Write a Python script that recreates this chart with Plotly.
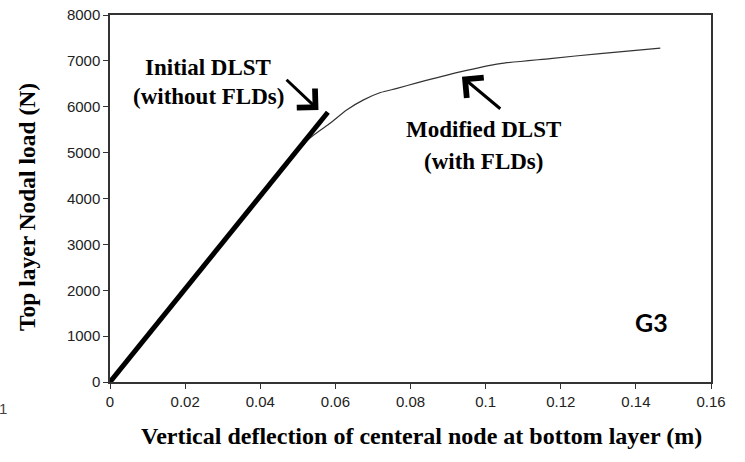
import plotly.graph_objects as go

# Load-deflection curves for specimen G3
initial_x = [0.0, 0.058]
initial_y = [0, 5880]

modified_x = [0.0, 0.053, 0.0586, 0.063, 0.0675, 0.072, 0.0764, 0.0817,
              0.0932, 0.1039, 0.1172, 0.1305, 0.1465]
modified_y = [0, 5300, 5640, 5930, 6150, 6310, 6400, 6520,
              6760, 6940, 7050, 7160, 7280]

x_ticks = [0, 0.02, 0.04, 0.06, 0.08, 0.1, 0.12, 0.14, 0.16]
x_tick_text = ["0", "0.02", "0.04", "0.06", "0.08", "0.1", "0.12", "0.14", "0.16"]
y_ticks = [0, 1000, 2000, 3000, 4000, 5000, 6000, 7000, 8000]

# plot-area geometry in pixels, used to place the free-floating texts
L, R, T, B = 110, 711, 15, 382


def px(xp):
    return (xp - L) / (R - L)


def py(yp):
    return (B - yp) / (B - T)


serif_bold = dict(family="Liberation Serif", size=23, color="black")

fig = go.Figure()
fig.add_trace(go.Scatter(x=modified_x, y=modified_y, mode="lines",
                         line=dict(color="#333333", width=1.2, shape="spline",
                                   smoothing=0.6),
                         name="Modified DLST"))
fig.add_trace(go.Scatter(x=initial_x, y=initial_y, mode="lines",
                         line=dict(color="black", width=5),
                         name="Initial DLST"))

axis_common = dict(showgrid=False, zeroline=False, showline=True,
                   linecolor="#333333", linewidth=1.5, mirror=True,
                   ticks="outside", ticklen=5, tickwidth=1.2,
                   tickcolor="#333333", automargin=False,
                   tickfont=dict(family="Liberation Sans", size=15, color="#222222"))

fig.update_xaxes(range=[0, 0.16], tickvals=x_ticks, ticktext=x_tick_text,
                 **axis_common)
fig.update_yaxes(range=[0, 8000], tickvals=y_ticks, **axis_common)


def label(xp, yp, text, font, **kw):
    return dict(x=px(xp), y=py(yp), xref="paper", yref="paper",
                xanchor="center", yanchor="middle", text=text,
                showarrow=False, font=font, **kw)


annotations = [
    # arrows
    dict(x=0.0555, y=5929, ax=0.0466, ay=6619, xref="x", yref="y",
         axref="x", ayref="y", showarrow=True, arrowhead=4, arrowsize=1.7,
         arrowwidth=3, arrowcolor="black", text=""),
    dict(x=0.0937, y=6654, ax=0.1043, ay=5929, xref="x", yref="y",
         axref="x", ayref="y", showarrow=True, arrowhead=4, arrowsize=1.7,
         arrowwidth=3, arrowcolor="black", text=""),
    # curve labels
    label(208, 67, "<b>Initial DLST</b>", serif_bold),
    label(208, 96, "<b>(without FLDs)</b>", serif_bold),
    label(483, 129, "<b>Modified DLST</b>", serif_bold),
    label(483, 161, "<b>(with FLDs)</b>", serif_bold),
    label(651, 322, "<b>G3</b>", dict(family="Lato", size=25, color="black")),
    # axis titles
    label(421, 436, "<b>Vertical deflection of centeral node at bottom layer (m)</b>",
          dict(family="Liberation Serif", size=24, color="black")),
    label(27, 207, "<b>Top layer Nodal load (N)</b>",
          dict(family="Liberation Serif", size=23.5, color="black"), textangle=-90),
    label(3, 408, "1", dict(family="Liberation Sans", size=15, color="#444444")),
]

fig.update_layout(width=745, height=462,
                  margin=dict(l=L, r=745 - R, t=T, b=462 - B, pad=0),
                  paper_bgcolor="white", plot_bgcolor="white",
                  showlegend=False, annotations=annotations)

fig.write_html("out.html")
